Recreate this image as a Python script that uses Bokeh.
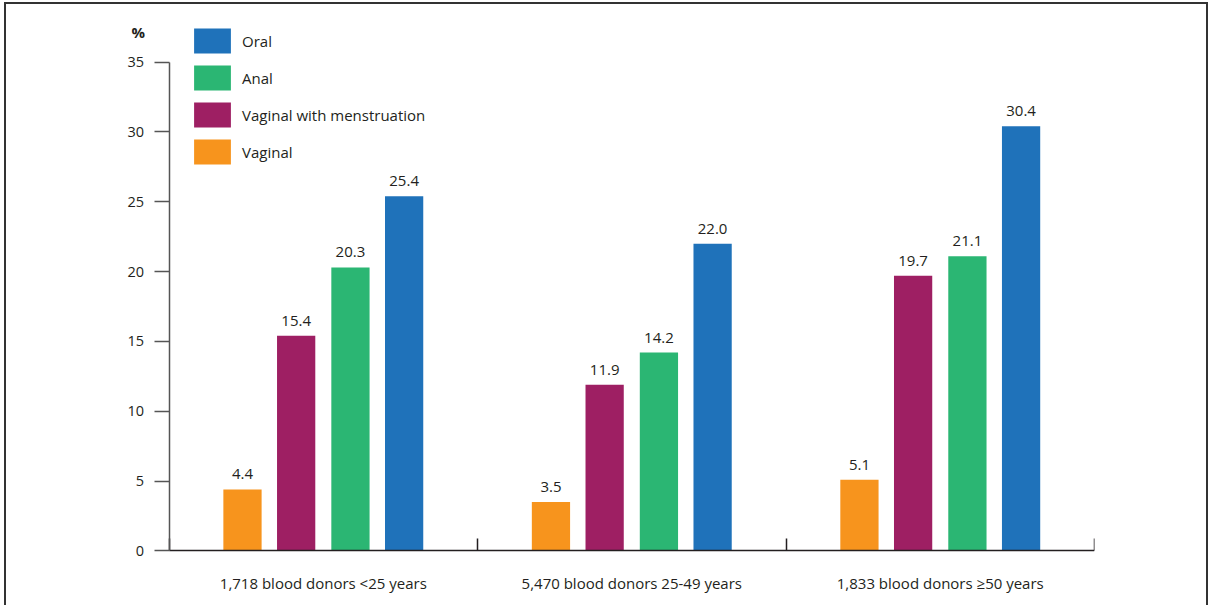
from bokeh.plotting import figure
from bokeh.models import Range1d, FixedTicker, Legend, LegendItem, ColumnDataSource
from bokeh.core.properties import value
from bokeh.embed import file_html
from bokeh.resources import INLINE

groups = ["1,718 blood donors <25 years", "5,470 blood donors 25-49 years", "1,833 blood donors \u226550 years"]
series = ["Vaginal", "Vaginal with menstruation", "Anal", "Oral"]
vaginal = [4.4, 3.5, 5.1]
vaginal_mens = [15.4, 11.9, 19.7]
anal = [20.3, 14.2, 21.1]
oral = [25.4, 22.0, 30.4]
y_ticks = [0, 5, 10, 15, 20, 25, 30, 35]
y_max = 35

FONT = "Open Sans"
TXT = "#231F20"
colors = {"Vaginal": "#F7941D", "Vaginal with menstruation": "#9E1F63", "Anal": "#2BB673", "Oral": "#1F72BA"}
offsets = [-0.262, -0.088, 0.088, 0.262]
bar_w = 0.124

p = figure(width=1204, height=603, x_range=Range1d(-0.527, 3), y_range=Range1d(-4.05, 39.12),
           output_backend="svg", toolbar_location=None,
           min_border_left=0, min_border_right=116, min_border_top=0, min_border_bottom=0)
p.outline_line_color = None
p.xgrid.visible = False
p.ygrid.visible = False
p.styles = {"margin-left": "4px", "margin-top": "2px",
            "border-left": "2px solid #333333", "border-top": "2px solid #333333",
            "border-right": "2px solid #333333"}

renderers = {}
for k, (name, vals) in enumerate(zip(series, [vaginal, vaginal_mens, anal, oral])):
    xs = [g + 0.5 + offsets[k] for g in range(len(groups))]
    src = ColumnDataSource(dict(x=xs, top=vals, lab=["%.1f" % v for v in vals]))
    r = p.vbar(x="x", top="top", width=bar_w, source=src, fill_color=colors[name], line_color=None)
    renderers[name] = r
    p.text(x="x", y="top", text="lab", source=src, text_align="center", text_baseline="alphabetic",
           y_offset=-15, text_font=value(FONT), text_font_size="15px", text_color=TXT)

# y-axis unit
p.text(x=[0], y=[y_max], text=["%"], text_align="right", text_baseline="middle", x_offset=-24, y_offset=-30,
       text_font=value(FONT), text_font_size="15px", text_font_style="bold", text_color=TXT)

legend = Legend(items=[LegendItem(label=n, renderers=[renderers[n]]) for n in ["Oral", "Anal", "Vaginal with menstruation", "Vaginal"]],
                location=(183, 440), glyph_width=46, glyph_height=31, label_height=31, spacing=6,
                padding=0, margin=0, border_line_color=None, background_fill_alpha=0,
                label_text_font=FONT, label_text_font_size="15px", label_text_color=TXT, label_standoff=7)
p.add_layout(legend)

xa = p.xaxis[0]
xa.fixed_location = 0
xa.ticker = FixedTicker(ticks=[0.5, 1.5, 2.5], minor_ticks=[0, 1, 2, 3])
xa.bounds = (0, 3)
xa.major_label_overrides = {0.5: groups[0], 1.5: groups[1], 2.5: groups[2]}
xa.major_tick_in = 0
xa.major_tick_out = 0
xa.minor_tick_in = 12
xa.minor_tick_out = 0
xa.minor_tick_line_color = "#231F20"
xa.minor_tick_line_width = 1.5
xa.axis_line_color = "#231F20"
xa.axis_line_width = 1.5
xa.major_label_standoff = 22
xa.major_label_text_font = FONT
xa.major_label_text_font_size = "15px"
xa.major_label_text_color = TXT

ya = p.yaxis[0]
ya.fixed_location = 0
ya.ticker = FixedTicker(ticks=y_ticks)
ya.bounds = (0, y_max)
ya.major_tick_out = 15
ya.major_tick_in = 0
ya.minor_tick_out = 0
ya.minor_tick_in = 0
ya.major_tick_line_color = "#555555"
ya.major_tick_line_width = 1.5
ya.axis_line_color = "#555555"
ya.axis_line_width = 1.5
ya.major_label_standoff = 10
ya.major_label_text_font = FONT
ya.major_label_text_font_size = "14.5px"
ya.major_label_text_color = TXT

open("out.html", "w").write(file_html(p, INLINE))
